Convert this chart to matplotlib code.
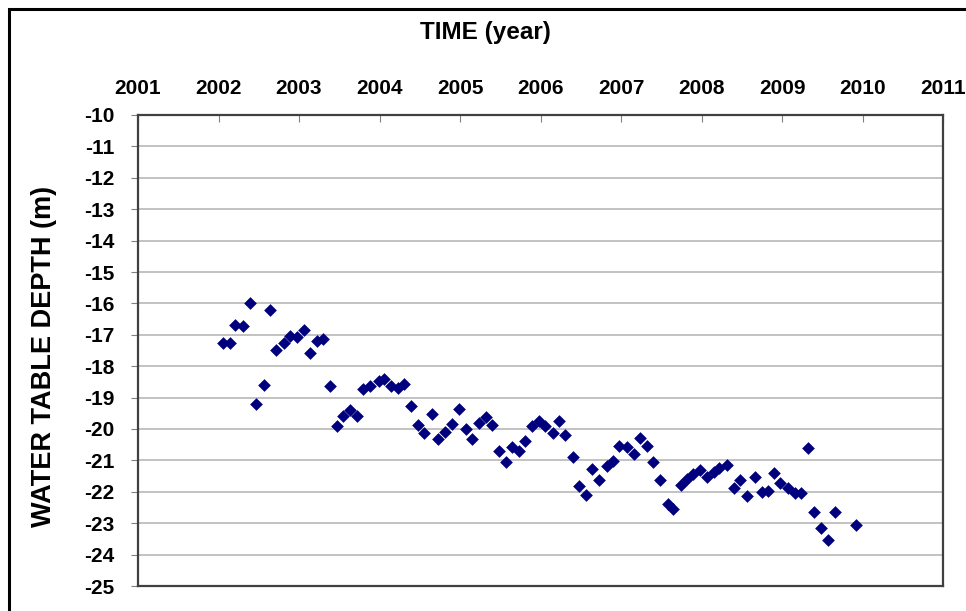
import numpy as np
import matplotlib.pyplot as plt
from matplotlib.patches import Rectangle

plt.rcParams['font.family'] = ['Liberation Sans', 'DejaVu Sans']

# decimal year of each measurement
years = [
    2002.05, 2002.14, 2002.21, 2002.31, 2002.39, 2002.47, 2002.56, 2002.64,
    2002.72, 2002.81, 2002.89, 2002.97, 2003.06, 2003.14, 2003.22, 2003.30,
    2003.39, 2003.47, 2003.55, 2003.63, 2003.72, 2003.80, 2003.88, 2003.99,
    2004.05, 2004.14, 2004.23, 2004.30, 2004.39, 2004.48, 2004.55, 2004.65,
    2004.73, 2004.81, 2004.90, 2004.99, 2005.07, 2005.15, 2005.23, 2005.32,
    2005.40, 2005.48, 2005.57, 2005.65, 2005.73, 2005.81, 2005.90, 2005.98,
    2006.06, 2006.16, 2006.23, 2006.31, 2006.40, 2006.48, 2006.57, 2006.64,
    2006.73, 2006.82, 2006.90, 2006.98, 2007.08, 2007.16, 2007.23, 2007.32,
    2007.40, 2007.49, 2007.58, 2007.64, 2007.74, 2007.82, 2007.90, 2007.98,
    2008.07, 2008.15, 2008.22, 2008.32, 2008.40, 2008.48, 2008.57, 2008.66,
    2008.75, 2008.82, 2008.90, 2008.97, 2009.07, 2009.16, 2009.23, 2009.32,
    2009.40, 2009.48, 2009.57, 2009.66, 2009.92,
]

# water table depth (m)
depth = [
    -17.25, -17.25, -16.68, -16.71, -15.98, -19.19, -18.60, -16.21,
    -17.48, -17.25, -17.03, -17.06, -16.85, -17.59, -17.20, -17.13,
    -18.63, -19.90, -19.59, -19.39, -19.59, -18.74, -18.63, -18.46,
    -18.42, -18.63, -18.70, -18.57, -19.27, -19.87, -20.14, -19.52,
    -20.33, -20.08, -19.84, -19.37, -20.00, -20.33, -19.82, -19.63,
    -19.87, -20.69, -21.04, -20.58, -20.69, -20.37, -19.92, -19.73,
    -19.92, -20.12, -19.73, -20.19, -20.88, -21.82, -22.10, -21.28,
    -21.64, -21.18, -21.01, -20.54, -20.58, -20.80, -20.30, -20.54,
    -21.04, -21.64, -22.40, -22.56, -21.77, -21.60, -21.43, -21.31,
    -21.54, -21.36, -21.25, -21.15, -21.89, -21.62, -22.13, -21.54,
    -22.00, -21.96, -21.39, -21.71, -21.87, -22.03, -22.03, -20.59,
    -22.65, -23.16, -23.54, -22.65, -23.06,
]

year_ticks = list(range(2001, 2012))
depth_ticks = list(range(-25, -9))

fig = plt.figure(figsize=(9.66, 6.11), dpi=100)
ax = fig.add_axes([138/966, 1 - 586/611, (943 - 138)/966, (586 - 115)/611])

ax.scatter(years, depth, marker='D', s=42, color='#00007F', zorder=3, linewidths=0)

ax.set_xlim(2001, 2011)
ax.set_ylim(-25, -10)
ax.set_xticks(year_ticks)
ax.set_xticklabels([str(y) for y in year_ticks], fontsize=15, fontweight='bold')
ax.set_yticks(depth_ticks)
ax.set_yticklabels([str(d) for d in depth_ticks], fontsize=15, fontweight='bold')

ax.xaxis.tick_top()
ax.tick_params(axis='x', direction='in', length=5, width=0.8, color='#808080', pad=12)
ax.tick_params(axis='y', direction='out', length=5, width=0.8, color='#808080', pad=12)

ax.yaxis.grid(True, color='#B8B8B8', linewidth=1.2)
ax.set_axisbelow(True)
for sp in ax.spines.values():
    sp.set_color('#404040')
    sp.set_linewidth(1.6)

fig.text(485/966, 1 - 33/611, 'TIME (year)', fontsize=17.5, fontweight='bold',
         ha='center', va='center')
fig.text(44/966, 1 - 356/611, 'WATER TABLE DEPTH (m)', fontsize=19.5, fontweight='bold',
         ha='center', va='center', rotation=90)

# outer frame (only left and top edges visible in the crop)
fig.patches.append(Rectangle((9/966, -0.1), 1.2, 1 - 9/611 + 0.1,
                             transform=fig.transFigure, fill=False,
                             edgecolor='black', linewidth=2.2))

fig.savefig('out.png', dpi=100)
